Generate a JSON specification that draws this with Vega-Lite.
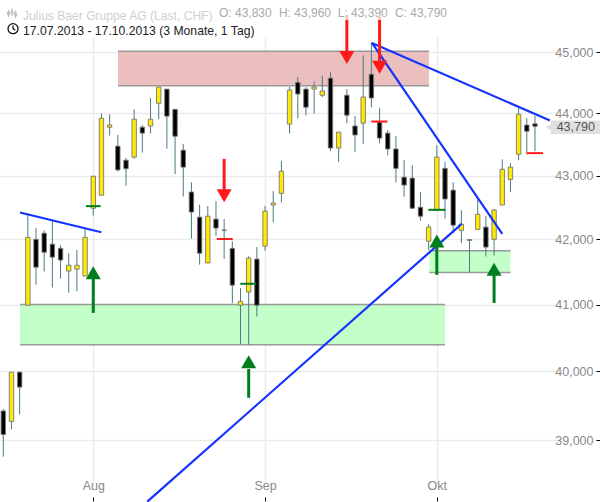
{"$schema":"https://vega.github.io/schema/vega-lite/v6.json","width":556,"height":446,"autosize":"none","padding":{"left":0,"top":37,"right":44,"bottom":19},"background":"white",
"title":{"text":"Julius Baer Gruppe AG (Last, CHF)","subtitle":"17.07.2013 - 17.10.2013 (3 Monate, 1 Tag)","anchor":"start","frame":"group","dx":23,"offset":-31,"font":"Liberation Sans","fontSize":12.1,"fontWeight":"normal","color":"#cfcfcf","subtitleFont":"Liberation Sans","subtitleFontSize":12.2,"subtitleColor":"#222222","subtitlePadding":3.5},
"config":{"view":{"stroke":null}},
"datasets":{
"candles":[
{"i":0,"date":"2013-07-17","open":39420,"high":39450,"low":38760,"close":39080},
{"i":1,"date":"2013-07-18","open":39270,"high":39990,"low":39155,"close":39990},
{"i":2,"date":"2013-07-19","open":39990,"high":39990,"low":39370,"close":39770},
{"i":3,"date":"2013-07-22","open":40990,"high":42390,"low":40990,"close":42030},
{"i":4,"date":"2013-07-23","open":42000,"high":42175,"low":41300,"close":41570},
{"i":5,"date":"2013-07-24","open":42095,"high":42140,"low":41505,"close":41800},
{"i":6,"date":"2013-07-25","open":41925,"high":42290,"low":41260,"close":41725},
{"i":7,"date":"2013-07-26","open":41860,"high":41910,"low":41395,"close":41680},
{"i":8,"date":"2013-07-29","open":41510,"high":41785,"low":41180,"close":41600},
{"i":9,"date":"2013-07-30","open":41540,"high":41835,"low":41200,"close":41600},
{"i":10,"date":"2013-07-31","open":41435,"high":42175,"low":41435,"close":42030},
{"i":11,"date":"2013-08-02","open":42485,"high":42990,"low":42370,"close":42990},
{"i":12,"date":"2013-08-05","open":42690,"high":44000,"low":42690,"close":43920},
{"i":13,"date":"2013-08-06","open":43775,"high":43985,"low":43640,"close":43810},
{"i":14,"date":"2013-08-07","open":43470,"high":43650,"low":43065,"close":43090},
{"i":15,"date":"2013-08-08","open":43245,"high":43280,"low":42840,"close":43110},
{"i":16,"date":"2013-08-09","open":43295,"high":44065,"low":43270,"close":43905},
{"i":17,"date":"2013-08-12","open":43775,"high":43810,"low":43370,"close":43680},
{"i":18,"date":"2013-08-13","open":43795,"high":44250,"low":43675,"close":43905},
{"i":19,"date":"2013-08-14","open":44165,"high":44430,"low":43905,"close":44430},
{"i":20,"date":"2013-08-15","open":44395,"high":44395,"low":43430,"close":43955},
{"i":21,"date":"2013-08-16","open":44065,"high":44065,"low":43025,"close":43630},
{"i":22,"date":"2013-08-19","open":43405,"high":43505,"low":42670,"close":43135},
{"i":23,"date":"2013-08-20","open":42740,"high":42895,"low":42010,"close":42425},
{"i":24,"date":"2013-08-21","open":42345,"high":42540,"low":41610,"close":41785},
{"i":25,"date":"2013-08-22","open":41635,"high":42520,"low":41635,"close":42360},
{"i":26,"date":"2013-08-23","open":42315,"high":42595,"low":42055,"close":42175},
{"i":27,"date":"2013-08-26","open":42145,"high":42315,"low":41695,"close":42140},
{"i":28,"date":"2013-08-27","open":41860,"high":41970,"low":41020,"close":41295},
{"i":29,"date":"2013-08-28","open":40990,"high":41250,"low":40410,"close":41050},
{"i":30,"date":"2013-08-29","open":41190,"high":41740,"low":40395,"close":41710},
{"i":31,"date":"2013-08-30","open":41695,"high":41880,"low":40820,"close":40990},
{"i":32,"date":"2013-09-02","open":41895,"high":42520,"low":41825,"close":42440},
{"i":33,"date":"2013-09-03","open":42535,"high":42755,"low":42265,"close":42565},
{"i":34,"date":"2013-09-04","open":42720,"high":43235,"low":42575,"close":43070},
{"i":35,"date":"2013-09-05","open":43825,"high":44430,"low":43675,"close":44380},
{"i":36,"date":"2013-09-06","open":44505,"high":44595,"low":43915,"close":44315},
{"i":37,"date":"2013-09-09","open":44395,"high":44430,"low":43965,"close":44100},
{"i":38,"date":"2013-09-10","open":44395,"high":44525,"low":43995,"close":44430},
{"i":39,"date":"2013-09-11","open":44295,"high":44615,"low":44265,"close":44365},
{"i":40,"date":"2013-09-12","open":44575,"high":44675,"low":43390,"close":43440},
{"i":41,"date":"2013-09-13","open":43440,"high":43695,"low":43215,"close":43695},
{"i":42,"date":"2013-09-16","open":44295,"high":44395,"low":43840,"close":43970},
{"i":43,"date":"2013-09-17","open":43795,"high":43955,"low":43375,"close":43650},
{"i":44,"date":"2013-09-18","open":43840,"high":44955,"low":43505,"close":44265},
{"i":45,"date":"2013-09-19","open":44640,"high":45170,"low":44100,"close":44250},
{"i":46,"date":"2013-09-20","open":43855,"high":44085,"low":43515,"close":43600},
{"i":47,"date":"2013-09-23","open":43680,"high":43730,"low":43325,"close":43425},
{"i":48,"date":"2013-09-24","open":43425,"high":43630,"low":42890,"close":43115},
{"i":49,"date":"2013-09-25","open":42975,"high":43245,"low":42665,"close":42850},
{"i":50,"date":"2013-09-26","open":42960,"high":43165,"low":42470,"close":42485},
{"i":51,"date":"2013-09-27","open":42500,"high":42740,"low":42290,"close":42360},
{"i":52,"date":"2013-09-30","open":41970,"high":42235,"low":41835,"close":42190},
{"i":53,"date":"2013-10-01","open":42460,"high":43485,"low":42460,"close":43295},
{"i":54,"date":"2013-10-02","open":43115,"high":43215,"low":42325,"close":42630},
{"i":55,"date":"2013-10-03","open":42770,"high":42895,"low":42095,"close":42220},
{"i":56,"date":"2013-10-04","open":42140,"high":42455,"low":41940,"close":42235},
{"i":57,"date":"2013-10-07","open":41995,"high":41995,"low":41490,"close":41985},
{"i":58,"date":"2013-10-08","open":42155,"high":42645,"low":42155,"close":42390},
{"i":59,"date":"2013-10-09","open":42190,"high":42360,"low":41735,"close":41880},
{"i":60,"date":"2013-10-10","open":42000,"high":42470,"low":41750,"close":42455},
{"i":61,"date":"2013-10-11","open":42535,"high":43260,"low":42535,"close":43100},
{"i":62,"date":"2013-10-14","open":42940,"high":43200,"low":42740,"close":43135},
{"i":63,"date":"2013-10-15","open":43340,"high":44085,"low":43245,"close":43985},
{"i":64,"date":"2013-10-16","open":43810,"high":43920,"low":43375,"close":43710},
{"i":65,"date":"2013-10-17","open":43830,"high":43960,"low":43390,"close":43790}],
"zones":[
{"kind":"resistance","from":14.02,"to":52.04,"top":45020,"bottom":44450},
{"kind":"support","from":2.04,"to":54,"top":41000,"bottom":40396},
{"kind":"support","from":52.1,"to":62,"top":41825,"bottom":41490}],
"trend":[
{"id":"a","i":2.04,"v":42418},{"id":"a","i":11.98,"v":42110},
{"id":"b","i":17.6,"v":38122},{"id":"b","i":56.04,"v":42240},
{"id":"c","i":45.07,"v":45158},{"id":"c","i":61,"v":42083},
{"id":"d","i":45.07,"v":45158},{"id":"d","i":66.83,"v":43883}],
"markers":[
{"kind":"buy","from":10.1,"to":11.9,"v":42518},
{"kind":"sell","from":26.1,"to":28.05,"v":42005},
{"kind":"buy","from":28.97,"to":30.93,"v":41316},
{"kind":"sell","from":44.99,"to":46.95,"v":43867},
{"kind":"buy","from":51.96,"to":54.04,"v":42460},
{"kind":"sell","from":63.94,"to":65.99,"v":43358}],
"arrows":[
{"kind":"buy","i":11,"head":41484,"a":41408,"b":40874},
{"kind":"buy","i":30,"head":40142,"a":40037,"b":39613},
{"kind":"buy","i":53,"head":41974,"a":41897,"b":41453},
{"kind":"buy","i":60,"head":41538,"a":41453,"b":41025},
{"kind":"sell","i":27,"head":42680,"a":42774,"b":43267},
{"kind":"sell","i":42,"head":44918,"a":45008,"b":45543},
{"kind":"sell","i":46,"head":44754,"a":44844,"b":45543}],
"fades":[
{"i":42,"a":45543,"b":45627},
{"i":46,"a":45543,"b":45627}],
"ohlc":[
{"i":26.37,"v":45661,"label":"O: 43,830"},
{"i":33.7,"v":45661,"label":"H: 43,960"},
{"i":40.88,"v":45661,"label":"L: 43,390"},
{"i":47.88,"v":45661,"label":"C: 43,790"}]
},
"resolve":{"scale":{"color":"independent"}},
"layer":[
{"data":{"name":"zones"},"mark":{"type":"rect","opacity":0.85},"encoding":{
"x":{"field":"from","type":"quantitative","title":null,"scale":{"domain":[-0.403,67.57],"nice":false,"zero":false,"padding":0},"axis":{"values":[11,32,53],"labelExpr":"datum.value==11?'Aug':datum.value==32?'Sep':'Okt'","orient":"bottom","offset":14,"domain":false,"tickSize":4,"tickColor":"#000000","labelPadding":-9,"labelFont":"Liberation Sans","labelFontSize":12.5,"labelColor":"#888888","labelBaseline":"bottom","labelFlush":false,"grid":true,"gridColor":"#ebebeb","gridWidth":1.5,"title":null}},
"x2":{"field":"to"},
"y":{"field":"top","type":"quantitative","title":null,"scale":{"type":"log","domain":[38386,45258],"nice":false,"zero":false},"axis":{"values":[39000,40000,41000,42000,43000,44000,45000],"format":",","orient":"right","offset":40,"domain":false,"tickSize":4,"tickColor":"#000000","labelAlign":"right","labelPadding":-7,"labelFont":"Liberation Sans","labelFontSize":12.5,"labelColor":"#888888","grid":true,"gridColor":"#ebebeb","gridWidth":1.5,"title":null}},
"y2":{"field":"bottom"},
"color":{"field":"kind","type":"nominal","legend":null,"scale":{"domain":["resistance","support","buy","sell"],"range":["#e6b4b2","#b8ffbe","#007d1d","#ff1a1a"]}}}},
{"data":{"name":"zones"},"mark":{"type":"rule","color":"#999999","strokeWidth":1.5},"encoding":{"x":{"field":"from","type":"quantitative"},"x2":{"field":"to"},"y":{"field":"top","type":"quantitative"}}},
{"data":{"name":"zones"},"mark":{"type":"rule","color":"#999999","strokeWidth":1.5},"encoding":{"x":{"field":"from","type":"quantitative"},"x2":{"field":"to"},"y":{"field":"bottom","type":"quantitative"}}},
{"data":{"name":"candles"},"mark":{"type":"rule","color":"#4a7a85","strokeWidth":1},"encoding":{"x":{"field":"i","type":"quantitative"},"y":{"field":"high","type":"quantitative"},"y2":{"field":"low"}}},
{"data":{"name":"candles"},"mark":{"type":"bar","size":4.4,"stroke":"#777777","strokeWidth":0.9},"encoding":{"x":{"field":"i","type":"quantitative"},"y":{"field":"open","type":"quantitative"},"y2":{"field":"close"},"color":{"condition":{"test":"datum.close>=datum.open","value":"#ffea00"},"value":"#000000"}}},
{"data":{"name":"markers"},"mark":{"type":"rule","strokeWidth":2},"encoding":{"x":{"field":"from","type":"quantitative"},"x2":{"field":"to"},"y":{"field":"v","type":"quantitative"},"color":{"field":"kind","type":"nominal","legend":null,"scale":{"domain":["resistance","support","buy","sell"],"range":["#e6b4b2","#b8ffbe","#007d1d","#ff1a1a"]}}}},
{"data":{"name":"trend"},"mark":{"type":"line","color":"#1533ff","strokeWidth":2.2},"encoding":{"x":{"field":"i","type":"quantitative"},"y":{"field":"v","type":"quantitative"},"detail":{"field":"id"}}},
{"data":{"name":"arrows"},"mark":{"type":"rule","strokeWidth":3},"encoding":{"x":{"field":"i","type":"quantitative"},"y":{"field":"a","type":"quantitative"},"y2":{"field":"b"},"color":{"field":"kind","type":"nominal","legend":null,"scale":{"domain":["resistance","support","buy","sell"],"range":["#e6b4b2","#b8ffbe","#007d1d","#ff1a1a"]}}}},
{"data":{"name":"arrows"},"mark":{"type":"point","filled":true,"size":225,"opacity":1},"encoding":{"x":{"field":"i","type":"quantitative"},"y":{"field":"head","type":"quantitative"},"shape":{"field":"kind","type":"nominal","legend":null,"scale":{"domain":["buy","sell"],"range":["triangle-up","triangle-down"]}},"color":{"field":"kind","type":"nominal","legend":null,"scale":{"domain":["resistance","support","buy","sell"],"range":["#e6b4b2","#b8ffbe","#007d1d","#ff1a1a"]}}}},
{"data":{"name":"ohlc"},"mark":{"type":"text","align":"left","baseline":"middle","font":"Liberation Sans","fontSize":12,"color":"#aaaaaa"},"encoding":{"x":{"field":"i","type":"quantitative"},"y":{"field":"v","type":"quantitative"},"text":{"field":"label"}}},
{"data":{"name":"fades"},"mark":{"type":"rule","strokeWidth":3,"color":"#ffc4c4"},"encoding":{"x":{"field":"i","type":"quantitative"},"y":{"field":"a","type":"quantitative"},"y2":{"field":"b"}}},
{"data":{"values":[{"from":66.95,"to":72.95,"top":43885,"bottom":43664}]},"mark":{"type":"rect","color":"#e0e0e0"},"encoding":{"x":{"field":"from","type":"quantitative"},"x2":{"field":"to"},"y":{"field":"top","type":"quantitative"},"y2":{"field":"bottom"}}},
{"data":{"values":[{"i":67.03,"v":43775}]},"mark":{"type":"point","shape":"triangle-left","filled":true,"size":185,"color":"#e0e0e0","opacity":1},"encoding":{"x":{"field":"i","type":"quantitative"},"y":{"field":"v","type":"quantitative"}}},
{"data":{"values":[{"i":67.65,"v":43775,"label":"43,790"}]},"mark":{"type":"text","align":"left","baseline":"middle","font":"Liberation Sans","fontSize":12.5,"color":"#555555"},"encoding":{"x":{"field":"i","type":"quantitative"},"y":{"field":"v","type":"quantitative"},"text":{"field":"label"}}},
{"data":{"values":[{"i":1.19,"v":45397}]},"mark":{"type":"point","shape":"M-1,0A1,1 0 1,1 1,0A1,1 0 1,1 -1,0M0,-0.65L0,0L0.45,0.3","filled":false,"size":100,"color":"#111111","strokeWidth":1.3,"opacity":1},"encoding":{"x":{"field":"i","type":"quantitative"},"y":{"field":"v","type":"quantitative"}}},
{"data":{"values":[{"i":1.07,"v":45653}]},"mark":{"type":"point","shape":"M-0.7,-0.8V0.8M0,-1V0.6M0.7,-0.6V1M-0.9,-0.3H-0.5V0.3H-0.9ZM-0.2,-0.5H0.2V0.1H-0.2ZM0.5,-0.1H0.9V0.5H0.5Z","filled":false,"size":100,"color":"#c0c0c0","strokeWidth":1,"opacity":1},"encoding":{"x":{"field":"i","type":"quantitative"},"y":{"field":"v","type":"quantitative"}}}
]}
